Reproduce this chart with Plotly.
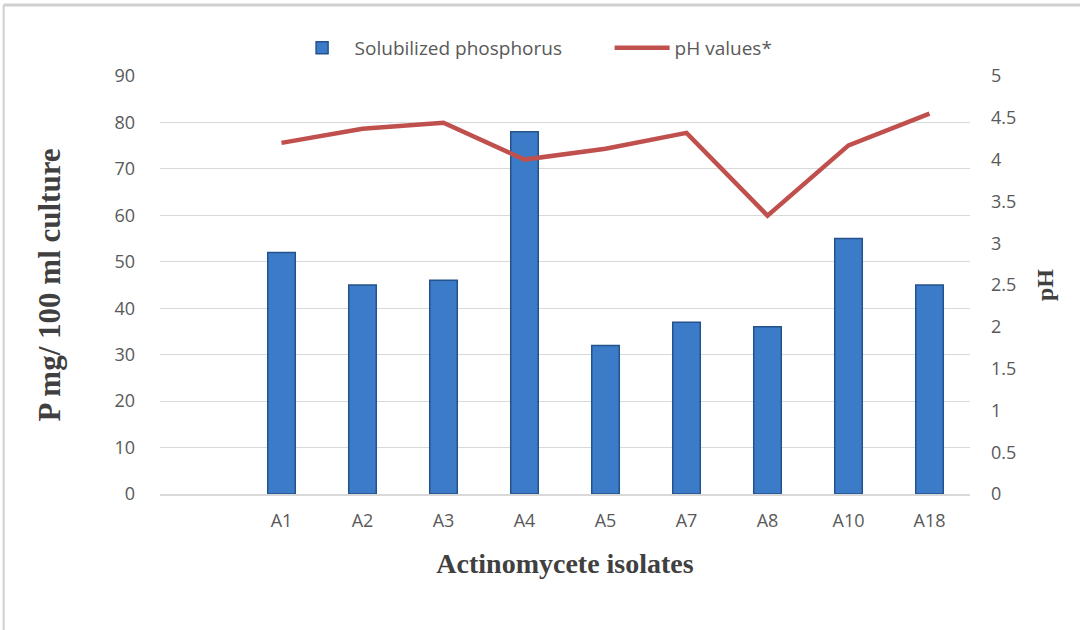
import plotly.graph_objects as go

categories = [" ", "A1", "A2", "A3", "A4", "A5", "A7", "A8", "A10", "A18"]
isolates = ["A1", "A2", "A3", "A4", "A5", "A7", "A8", "A10", "A18"]
phosphorus = [52, 45, 46, 78, 32, 37, 36, 55, 45]
ph_values = [4.2, 4.37, 4.44, 4.0, 4.13, 4.32, 3.33, 4.17, 4.55]
left_ticks = [0, 10, 20, 30, 40, 50, 60, 70, 80, 90]
right_ticks = [0, 0.5, 1, 1.5, 2, 2.5, 3, 3.5, 4, 4.5, 5]

tick_font = dict(family="Open Sans, Lato, sans-serif", size=18, color="#595959")
serif = "Liberation Serif, Times New Roman, serif"

fig = go.Figure()
fig.add_trace(go.Bar(
    x=isolates, y=phosphorus, name="Solubilized phosphorus",
    marker=dict(color="#3C7BC8", line=dict(color="#24528C", width=1.5)),
    width=0.34, yaxis="y",
))
fig.add_trace(go.Scatter(
    x=isolates, y=ph_values, name="pH values*", mode="lines",
    line=dict(color="#C0504D", width=4.5), yaxis="y2",
))

fig.update_layout(
    width=1080, height=630,
    paper_bgcolor="white", plot_bgcolor="white",
    margin=dict(l=160, r=110, t=76, b=136, autoexpand=False),
    showlegend=True,
    legend=dict(orientation="h", x=0.16, xanchor="left", y=1.067, yanchor="middle",
                font=dict(family="Open Sans, Lato, sans-serif", size=19, color="#595959"),
                itemwidth=55, entrywidth=250, entrywidthmode="pixels", traceorder="normal"),
    xaxis=dict(
        type="category", categoryorder="array", categoryarray=categories,
        range=[-0.5, len(categories) - 0.5],
        tickfont=tick_font, showgrid=False, showline=True, linecolor="#D9D9D9", linewidth=1.5,
        ticks="", ticklabelstandoff=10,
        title=dict(text="<b>Actinomycete isolates</b>",
                   font=dict(family=serif, size=28, color="#404040"), standoff=22),
    ),
    yaxis=dict(
        range=[0, 90], tickvals=left_ticks, tickfont=tick_font,
        showgrid=True, gridcolor="#D9D9D9", gridwidth=1.3, zeroline=False,
        ticks="", ticklabelstandoff=24,
        title=dict(text="<b>P mg/ 100 ml culture</b>",
                   font=dict(family=serif, size=31, color="#404040"), standoff=44),
    ),
    yaxis2=dict(
        range=[0, 5], tickvals=right_ticks, tickfont=tick_font, overlaying="y", side="right",
        showgrid=False, zeroline=False, ticks="", ticklabelstandoff=20,
        title=dict(text="<b>pH</b>", font=dict(family=serif, size=24, color="#404040"), standoff=20),
    ),
    shapes=[
        dict(type="line", xref="paper", yref="paper", x0=-0.193, x1=-0.193, y0=-0.35, y1=1.17,
             line=dict(color="#D0D0D0", width=2)),
        dict(type="line", xref="paper", yref="paper", x0=-0.193, x1=1.14, y0=1.17, y1=1.17,
             line=dict(color="#D0D0D0", width=3)),
    ],
)

fig.write_html("out.html", config={"displayModeBar": False},
               post_script="document.body.style.margin='0';")
